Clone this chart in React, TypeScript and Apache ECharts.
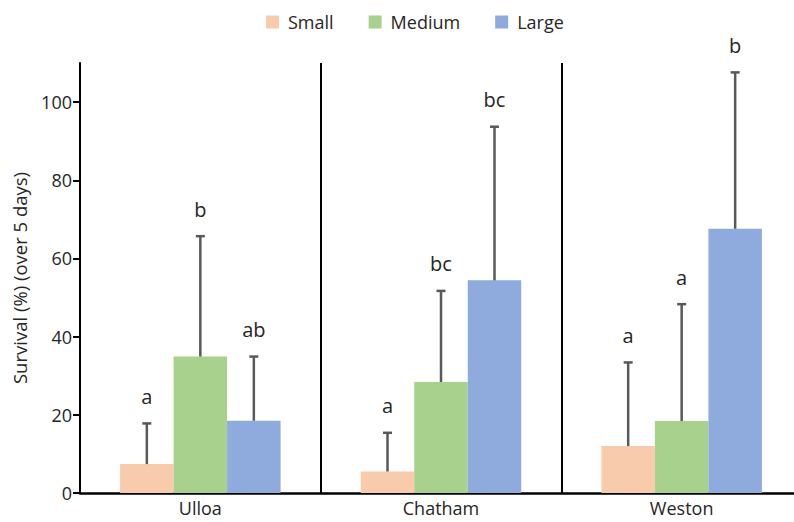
import React, { useEffect, useRef } from "react";
import * as echarts from "echarts";

const categories = ["Ulloa", "Chatham", "Weston"];
const seriesNames = ["Small", "Medium", "Large"];
const smallValues = [7.4, 5.5, 12.0];
const mediumValues = [34.9, 28.4, 18.4];
const largeValues = [18.5, 54.4, 67.6];
const smallErrTop = [17.8, 15.4, 33.4];
const mediumErrTop = [65.7, 51.7, 48.3];
const largeErrTop = [34.9, 93.7, 107.6];
const smallLetters = ["a", "a", "a"];
const mediumLetters = ["b", "bc", "a"];
const largeLetters = ["ab", "bc", "b"];
const yTicks = [0, 20, 40, 60, 80, 100];

const colors = ["#F8CBAD", "#A9D18E", "#8FAADC"];
const FONT = "'Open Sans', sans-serif";
const BAR_W = 53.5;

export default function App() {
  const ref = useRef<HTMLDivElement>(null);
  useEffect(() => {
    if (!ref.current) return;
    const chart = echarts.init(ref.current, null, { renderer: "svg" });
    const values = [smallValues, mediumValues, largeValues];
    const errs = [smallErrTop, mediumErrTop, largeErrTop];
    const letters = [smallLetters, mediumLetters, largeLetters];

    const barSeries = seriesNames.map((name, s) => ({
      name,
      type: "bar",
      data: values[s],
      barWidth: BAR_W,
      barGap: "0%",
      itemStyle: { color: colors[s] },
      z: 2,
    }));

    const errSeries = seriesNames.map((name, s) => ({
      name: name + "-err",
      type: "custom",
      z: 5,
      silent: true,
      data: categories.map((_, i) => [i, values[s][i], errs[s][i]]),
      renderItem: (params: any, api: any) => {
        const i = api.value(0);
        const base = api.coord([i, api.value(1)]);
        const top = api.coord([i, api.value(2)]);
        const x = base[0] + (s - 1) * BAR_W;
        const letter = letters[s][i];
        return {
          type: "group",
          children: [
            {
              type: "line",
              shape: { x1: x, y1: base[1], x2: x, y2: top[1] },
              style: { stroke: "#595959", lineWidth: 2.5 },
            },
            {
              type: "line",
              shape: { x1: x - 4.5, y1: top[1], x2: x + 4.5, y2: top[1] },
              style: { stroke: "#595959", lineWidth: 2.5 },
            },
            {
              type: "text",
              x: x,
              y: top[1] - 17,
              style: {
                text: letter,
                fontSize: 20,
                fontFamily: FONT,
                fill: "#262626",
                align: "center",
                verticalAlign: "bottom",
              },
            },
          ],
        };
      },
    }));

    chart.setOption({
      animation: false,
      textStyle: { fontFamily: FONT },
      legend: {
        data: seriesNames,
        left: 261,
        top: 8,
        itemWidth: 13,
        itemHeight: 13,
        itemGap: 35,
        icon: "rect",
        textStyle: { fontSize: 18, color: "#262626", fontFamily: FONT, padding: [0, 0, 0, 4] },
      },
      grid: { left: 80, top: 63, width: 722, height: 430 },
      xAxis: {
        type: "category",
        data: categories,
        axisLine: { lineStyle: { color: "#000", width: 2.5 } },
        axisTick: { show: false },
        splitLine: { show: true, lineStyle: { color: "#000", width: 2 } },
        axisLabel: { fontSize: 18, color: "#262626", margin: 6, fontFamily: FONT },
      },
      yAxis: {
        type: "value",
        min: 0,
        max: 110,
        interval: 20,
        name: "Survival (%) (over 5 days)",
        nameLocation: "middle",
        nameGap: 51,
        nameTextStyle: { fontSize: 18.5, color: "#262626", fontFamily: FONT },
        axisLine: { show: true, lineStyle: { color: "#000", width: 2 } },
        axisTick: { show: true, length: 7, customValues: yTicks, lineStyle: { color: "#000", width: 2 } },
        axisLabel: { fontSize: 18, color: "#262626", margin: 8, customValues: yTicks, fontFamily: FONT },
        splitLine: { show: false },
      },
      series: [...barSeries, ...errSeries],
    });
    return () => chart.dispose();
  }, []);
  return (
    <div
      ref={ref}
      style={{ position: "fixed", left: 0, top: 0, width: 806, height: 522, background: "#fff" }}
    />
  );
}
